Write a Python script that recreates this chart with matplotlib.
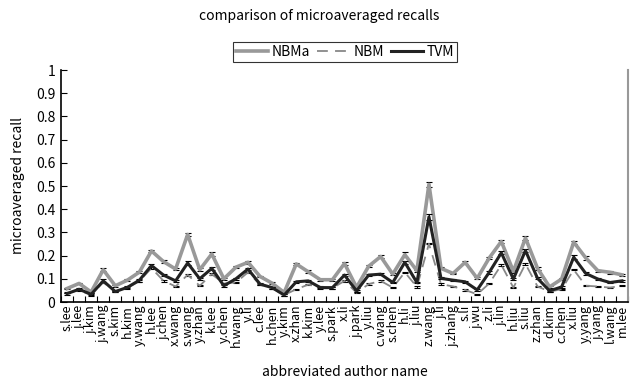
import numpy as np
import matplotlib
matplotlib.use("Agg")
import matplotlib.pyplot as plt

plt.rcParams['font.family'] = ['Noto Sans CJK JP', 'DejaVu Sans']

authors = ["s.lee", "j.lee", "j.kim", "j.wang", "s.kim", "h.kim", "y.wang", "h.lee",
           "j.chen", "x.wang", "s.wang", "y.zhan", "k.lee", "y.chen", "h.wang", "y.li",
           "c.lee", "h.chen", "y.kim", "x.zhan", "k.kim", "y.lee", "s.park", "x.li",
           "j.park", "y.liu", "c.wang", "s.chen", "h.li", "j.liu", "z.wang", "j.li",
           "j.zhang", "s.li", "j.wu", "z.li", "j.lin", "h.liu", "s.liu", "z.zhan",
           "d.kim", "c.chen", "x.liu", "y.yang", "j.yang", "l.wang", "m.lee"]

nbma = [0.058, 0.080, 0.043, 0.139, 0.070, 0.094, 0.129, 0.220, 0.174, 0.142, 0.291, 0.139,
        0.207, 0.100, 0.150, 0.171, 0.110, 0.081, 0.041, 0.164, 0.130, 0.096, 0.096, 0.166,
        0.063, 0.154, 0.196, 0.120, 0.204, 0.135, 0.507, 0.145, 0.123, 0.171, 0.102, 0.190,
        0.261, 0.132, 0.276, 0.145, 0.065, 0.099, 0.258, 0.190, 0.135, 0.128, 0.117]
nbm = [0.040, 0.050, 0.030, 0.085, 0.045, 0.060, 0.090, 0.146, 0.091, 0.067, 0.117, 0.070,
       0.120, 0.080, 0.084, 0.128, 0.075, 0.060, 0.030, 0.055, 0.075, 0.065, 0.060, 0.091,
       0.040, 0.077, 0.091, 0.062, 0.128, 0.065, 0.251, 0.077, 0.067, 0.052, 0.033, 0.080,
       0.160, 0.062, 0.164, 0.067, 0.045, 0.055, 0.139, 0.070, 0.067, 0.062, 0.070]
tvm = [0.036, 0.055, 0.033, 0.091, 0.045, 0.063, 0.094, 0.157, 0.116, 0.091, 0.168, 0.100,
       0.145, 0.070, 0.100, 0.142, 0.077, 0.062, 0.030, 0.087, 0.091, 0.062, 0.062, 0.116,
       0.048, 0.116, 0.120, 0.084, 0.171, 0.084, 0.367, 0.102, 0.094, 0.087, 0.052, 0.128,
       0.212, 0.099, 0.222, 0.102, 0.048, 0.065, 0.193, 0.123, 0.099, 0.084, 0.091]

nbma_err = [0.004, 0.004, 0.004, 0.006, 0.004, 0.004, 0.006, 0.006, 0.005, 0.006, 0.008, 0.006,
            0.008, 0.004, 0.004, 0.006, 0.004, 0.004, 0.004, 0.006, 0.006, 0.004, 0.004, 0.005,
            0.004, 0.004, 0.006, 0.004, 0.010, 0.004, 0.010, 0.004, 0.004, 0.006, 0.004, 0.006,
            0.008, 0.006, 0.008, 0.008, 0.004, 0.004, 0.007, 0.010, 0.005, 0.006, 0.004]
nbm_err = [0.003] * 47
tvm_err = [0.004, 0.004, 0.004, 0.006, 0.004, 0.004, 0.006, 0.008, 0.005, 0.005, 0.008, 0.005,
           0.006, 0.004, 0.004, 0.005, 0.004, 0.004, 0.004, 0.005, 0.005, 0.004, 0.004, 0.005,
           0.004, 0.004, 0.005, 0.004, 0.007, 0.004, 0.012, 0.004, 0.004, 0.004, 0.004, 0.006,
           0.007, 0.006, 0.007, 0.005, 0.004, 0.004, 0.008, 0.005, 0.004, 0.004, 0.004]

x = np.arange(len(authors))

fig = plt.figure(figsize=(6.39, 3.83), dpi=100)
ax = fig.add_axes([61 / 639, 1 - 302 / 383, 567 / 639, 232 / 383])

ax.errorbar(x, nbma, yerr=nbma_err, color='#999999', lw=2.6, ecolor='black',
            elinewidth=0.8, capsize=2, capthick=0.8, label='NBMa', zorder=2)
ax.errorbar(x, nbm, yerr=nbm_err, color='#888888', lw=1.3, ls=(0, (6, 4)), ecolor='black',
            elinewidth=0.8, capsize=2, capthick=0.8, label='NBM', zorder=3)
ax.errorbar(x, tvm, yerr=tvm_err, color='#222222', lw=2.2, ecolor='black',
            elinewidth=0.8, capsize=2, capthick=0.8, label='TVM', zorder=4)

ax.set_xlim(-0.5, len(authors) - 0.5)
ax.set_ylim(0, 1)
ax.set_yticks(np.arange(0, 1.01, 0.1))
ax.set_yticklabels(['0'] + ['%.1f' % v for v in np.arange(0.1, 0.95, 0.1)] + ['1'], fontsize=10)
ax.set_xticks(x)
ax.set_xticklabels(authors, rotation=90, fontsize=9, va='top')
ax.set_xticks(np.arange(-0.5, len(authors), 1), minor=True)
ax.tick_params(axis='x', which='major', length=0, pad=2)
ax.tick_params(axis='x', which='minor', length=4, direction='in', width=0.8)
ax.tick_params(axis='y', length=4, direction='in', width=0.8, pad=4)

ax.spines['top'].set_visible(False)
ax.spines['right'].set_color('#999999')
ax.spines['right'].set_linewidth(1.5)
ax.spines['left'].set_linewidth(1.2)
ax.spines['bottom'].set_linewidth(1.2)

ax.set_ylabel('microaveraged recall', fontsize=10, labelpad=8)
ax.set_xlabel('abbreviated author name', fontsize=10, labelpad=13)
fig.text(0.5, 1 - 16 / 383, 'comparison of microaveraged recalls', ha='center', va='center', fontsize=10)

h, l = ax.get_legend_handles_labels()
leg = fig.legend([hh[0] for hh in h], l, loc='center', bbox_to_anchor=(345 / 639, 1 - 52 / 383),
                 ncol=3, fontsize=10, frameon=True, fancybox=False, edgecolor='black',
                 handlelength=2.3, handletextpad=0.3, columnspacing=0.5, borderpad=0.2)
leg.get_frame().set_linewidth(0.8)

fig.savefig('out.png', dpi=100)
